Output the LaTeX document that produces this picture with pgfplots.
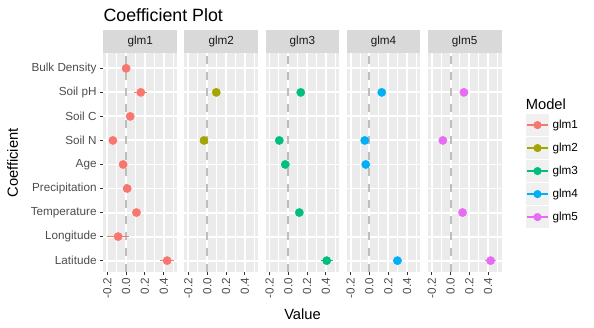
\documentclass[border=0pt]{standalone}
\usepackage{pgfplots}
\pgfplotsset{compat=1.18}
\usepackage{fontspec}
\setmainfont{Liberation Sans}
\definecolor{panelbg}{HTML}{EBEBEB}
\definecolor{stripbg}{HTML}{D9D9D9}
\definecolor{tickt}{HTML}{4D4D4D}
\definecolor{tickc}{HTML}{333333}
\definecolor{striptxt}{HTML}{1A1A1A}
\definecolor{zerol}{HTML}{BEBEBE}
\definecolor{keybg}{HTML}{F0F0F0}
\definecolor{c1}{HTML}{F8766D}
\definecolor{c2}{HTML}{A3A500}
\definecolor{c3}{HTML}{00BF7D}
\definecolor{c4}{HTML}{00B0F6}
\definecolor{c5}{HTML}{E76BF3}
\newcommand{\smallf}{\fontsize{11.7}{13}\selectfont}
\newcommand{\midf}{\fontsize{14.7}{16}\selectfont}
\pgfplotsset{
  panel/.style={
    scale only axis, width=73.8pt, height=219pt, anchor=south west,
    xmin=-0.243, xmax=0.542, ymin=0.54, ymax=9.65,
    axis background/.style={fill=panelbg},
    axis line style={draw=none},
    xtick={-0.2,0,0.2,0.4}, xticklabels={-0.2,0.0,0.2,0.4},
    minor xtick={-0.1,0.1,0.3,0.5},
    ytick={1,...,9},
    xtick pos=bottom, ytick pos=left,
    grid=both,
    major grid style={white, line width=1.9pt},
    minor grid style={white, line width=0.95pt},
    tick align=outside, major tick length=3.67pt, minor tick length=0pt,
    tick style={color=tickc, line width=0.95pt},
    xticklabel style={rotate=90, anchor=east, font=\smallf, text=tickt, inner xsep=2.5pt},
    yticklabel style={font=\smallf, text=tickt, inner xsep=2.9pt},
    /pgf/number format/assume math mode=true,
    clip=false,
  },
  zero/.style={zerol, line width=2pt, dash pattern=on 8pt off 8pt},
  pts/.style={only marks, mark=*, color=#1, mark size=4.15pt, mark options={draw=#1, fill=#1},
    error bars/.cd, x dir=both, x explicit, error mark=none,
    error bar style={line width=1.5pt, color=#1}},
  keyimg/.style={legend image code/.code={
      \path[draw=none, fill=none] (0pt,-11.5pt) rectangle (23pt,11.5pt);
      \path[draw=none, fill=keybg] (0.4pt,-10.8pt) rectangle (22.6pt,10.8pt);
      \path[draw=#1, line width=2pt, fill=none] (1.4pt,0pt) -- (21.6pt,0pt);
      \path[draw=none, fill=#1] (11.5pt,0pt) circle (4.1pt);
  }},
}
\newcommand{\strip}[2]{%
  \fill[stripbg] (#1.north west) rectangle ([yshift=22.7pt]#1.north east);
  \node[font=\smallf, text=striptxt] at ([yshift=11.35pt]#1.north) {#2};
}
\begin{document}
\begin{tikzpicture}
\useasboundingbox (0,0) rectangle (594pt,328pt);

% glm1
\begin{axis}[panel, name=p1, at={(103.3pt,56.3pt)},
  yticklabels={Latitude,Longitude,Temperature,Precipitation,Age,Soil N,Soil C,Soil pH,Bulk Density}]
\addplot[zero] coordinates {(0,0.54) (0,9.65)};
\addplot[pts=c1] coordinates {
  (0.000,9) +- (0.020,0)
  (0.156,8) +- (0.071,0)
  (0.043,7) +- (0.025,0)
  (-0.141,6) +- (0.030,0)
  (-0.032,5) +- (0.025,0)
  (0.011,4) +- (0.025,0)
  (0.110,3) +- (0.030,0)
  (-0.085,2) +- (0.120,0)
  (0.436,1) +- (0.075,0)
};
\end{axis}

% glm2
\begin{axis}[panel, name=p2, at={(184.4pt,56.3pt)}, yticklabels={}, ytick style={draw=none}]
\addplot[zero] coordinates {(0,0.54) (0,9.65)};
\addplot[pts=c2] coordinates {
  (0.096,8) +- (0.020,0)
  (-0.035,6) +- (0.020,0)
};
\end{axis}

% glm3
\begin{axis}[panel, name=p3, at={(265.5pt,56.3pt)}, yticklabels={}, ytick style={draw=none}]
\addplot[zero] coordinates {(0,0.54) (0,9.65)};
\addplot[pts=c3] coordinates {
  (0.132,8) +- (0.020,0)
  (-0.096,6) +- (0.020,0)
  (-0.032,5) +- (0.020,0)
  (0.117,3) +- (0.020,0)
  (0.408,1) +- (0.066,0)
};
\end{axis}

% glm4
\begin{axis}[panel, name=p4, at={(346.6pt,56.3pt)}, yticklabels={}, ytick style={draw=none}]
\addplot[zero] coordinates {(0,0.54) (0,9.65)};
\addplot[pts=c4] coordinates {
  (0.131,8) +- (0.020,0)
  (-0.050,6) +- (0.020,0)
  (-0.039,5) +- (0.020,0)
  (0.298,1) +- (0.050,0)
};
\end{axis}

% glm5
\begin{axis}[panel, name=p5, at={(427.7pt,56.3pt)}, yticklabels={}, ytick style={draw=none},
  legend style={at={(1.332,0.722)}, anchor=north west, draw=none, fill=none,
    row sep=0pt, column sep=3.5pt, inner sep=0pt, outer sep=0pt, font=\smallf,
    nodes={inner sep=0pt}},
  legend cell align=left]
\addlegendimage{keyimg=c1}\addlegendentry{glm1}
\addlegendimage{keyimg=c2}\addlegendentry{glm2}
\addlegendimage{keyimg=c3}\addlegendentry{glm3}
\addlegendimage{keyimg=c4}\addlegendentry{glm4}
\addlegendimage{keyimg=c5}\addlegendentry{glm5}
\addplot[zero] coordinates {(0,0.54) (0,9.65)};
\addplot[pts=c5] coordinates {
  (0.142,8) +- (0.020,0)
  (-0.082,6) +- (0.020,0)
  (0.128,3) +- (0.020,0)
  (0.426,1) +- (0.060,0)
};
\end{axis}

\strip{p1}{glm1}
\strip{p2}{glm2}
\strip{p3}{glm3}
\strip{p4}{glm4}
\strip{p5}{glm5}

\node[anchor=base west, font=\fontsize{17.8}{19}\selectfont, inner sep=0pt] at (103.3pt,306pt) {Coefficient Plot};
\node[anchor=base west, font=\midf, inner sep=0pt] at (525.7pt,218.7pt) {Model};
\node[anchor=base, font=\midf, inner sep=0pt] at (302.5pt,8pt) {Value};
\node[rotate=90, font=\midf, inner sep=0pt] at (12.5pt,165pt) {Coefficient};
\end{tikzpicture}
\end{document}
